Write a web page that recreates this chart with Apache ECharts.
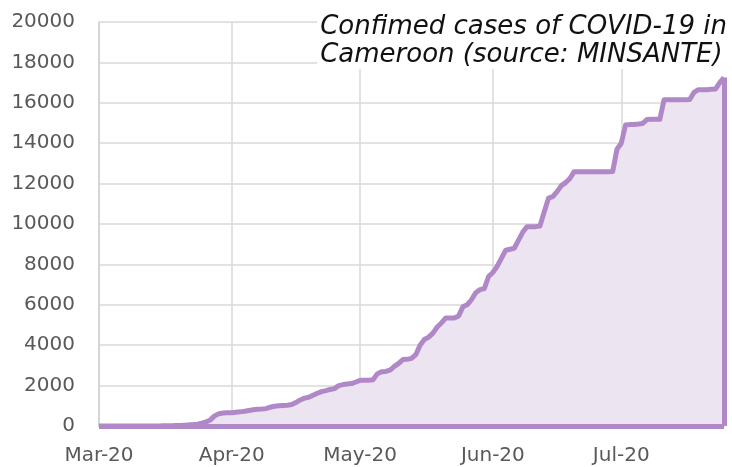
<!DOCTYPE html>
<html>
<head>
<meta charset="utf-8">
<script src="https://cdn.jsdelivr.net/npm/echarts@6/dist/echarts.min.js"></script>
<style>
  html, body { margin: 0; padding: 0; background: #fff; }
  #main { width: 732px; height: 467px; }
</style>
</head>
<body>
<div id="main"></div>
<script>
// daily cumulative confirmed cases, 1 Mar 2020 .. 25 Jul 2020
var startDate = '2020-03-01';
var cases = [
  0, 0, 0, 0, 0, 1, 2, 2, 2, 2,
  2, 2, 2, 2, 5, 10, 10, 13, 20, 27,
  40, 56, 66, 91, 140, 200, 300, 500, 610, 640,
  650, 660, 680, 700, 730, 770, 800, 830, 840, 860,
  930, 980, 1000, 1020, 1030, 1060, 1160, 1290, 1380, 1420,
  1520, 1620, 1700, 1750, 1810, 1850, 2000, 2050, 2080, 2100,
  2180, 2260, 2270, 2270, 2290, 2580, 2690, 2700, 2770, 2950,
  3100, 3290, 3300, 3350, 3530, 4000, 4280, 4400, 4600, 4900,
  5100, 5350, 5350, 5350, 5450, 5900, 6000, 6250, 6600, 6750,
  6800, 7400, 7600, 7900, 8300, 8700, 8750, 8800, 9200, 9600,
  9870, 9870, 9870, 9900, 10600, 11280, 11350, 11600, 11900, 12050,
  12250, 12590, 12590, 12590, 12590, 12590, 12590, 12590, 12590, 12590,
  12600, 13700, 14000, 14900, 14920, 14930, 14950, 14980, 15170, 15180,
  15180, 15180, 16150, 16150, 16150, 16150, 16150, 16150, 16160, 16520,
  16650, 16650, 16650, 16670, 16680, 17000, 17250
];
var monthNames = ['Jan','Feb','Mar','Apr','May','Jun','Jul','Aug','Sep','Oct','Nov','Dec'];
var titleText = 'Confimed cases of COVID-19 in\nCameroon (source: MINSANTE)';

// one category per day
var days = [];
var d0 = new Date(startDate + 'T00:00:00Z');
for (var i = 0; i < cases.length; i++) {
  var d = new Date(d0.getTime() + i * 86400000);
  days.push(d.toISOString().slice(0, 10));
}
function isMonthStart(idx, val) {
  return val.slice(8, 10) === '01';
}
var last = days.length - 1;

var myChart = echarts.init(document.getElementById('main'));

option = {
  animation: false,
  graphic: [
    {
      type: 'text',
      right: 0,
      top: 13,
      z: 100,
      style: {
        text: titleText,
        font: 'italic 26px "DejaVu Sans"',
        fill: '#111',
        align: 'right',
        verticalAlign: 'top',
        lineHeight: 28,
        backgroundColor: '#fff',
        padding: [0, 5, 0, 3]
      }
    }
  ],
  grid: { left: 99, right: 8, top: 22, bottom: 41 },
  xAxis: {
    type: 'category',
    data: days,
    boundaryGap: false,
    axisTick: { show: false },
    axisLine: { lineStyle: { color: '#BFBFBF', width: 1.5 } },
    splitLine: {
      show: true,
      interval: isMonthStart,
      lineStyle: { color: '#D9D9D9', width: 1.5 }
    },
    axisLabel: {
      interval: isMonthStart,
      margin: 20,
      fontFamily: 'DejaVu Sans',
      fontSize: 20,
      color: '#595959',
      formatter: function (v) {
        return monthNames[parseInt(v.slice(5, 7), 10) - 1] + '-' + v.slice(2, 4);
      }
    }
  },
  yAxis: {
    type: 'value',
    min: 0,
    max: 20000,
    interval: 2000,
    axisLine: { show: true, lineStyle: { color: '#D0D0D0', width: 1.5 } },
    splitLine: { lineStyle: { color: '#D9D9D9', width: 1.5 } },
    axisLabel: {
      margin: 24,
      fontFamily: 'DejaVu Sans',
      fontSize: 20,
      color: '#595959',
      formatter: function (v) { return String(v); }
    }
  },
  series: [
    {
      name: 'cases',
      type: 'line',
      data: cases,
      showSymbol: false,
      lineStyle: { color: '#B088C8', width: 5, join: 'round' },
      itemStyle: { color: '#B088C8' },
      areaStyle: { color: '#EDE4F2', opacity: 1 },
      markLine: {
        silent: true,
        symbol: 'none',
        label: { show: false },
        lineStyle: { color: '#B088C8', width: 5, type: 'solid' },
        data: [
          [{ coord: [days[0], 0] }, { coord: [days[last], 0] }],
          [{ coord: [days[last], 0] }, { coord: [days[last], cases[last]] }]
        ]
      }
    }
  ]
};

myChart.setOption(option);
</script>
</body>
</html>
